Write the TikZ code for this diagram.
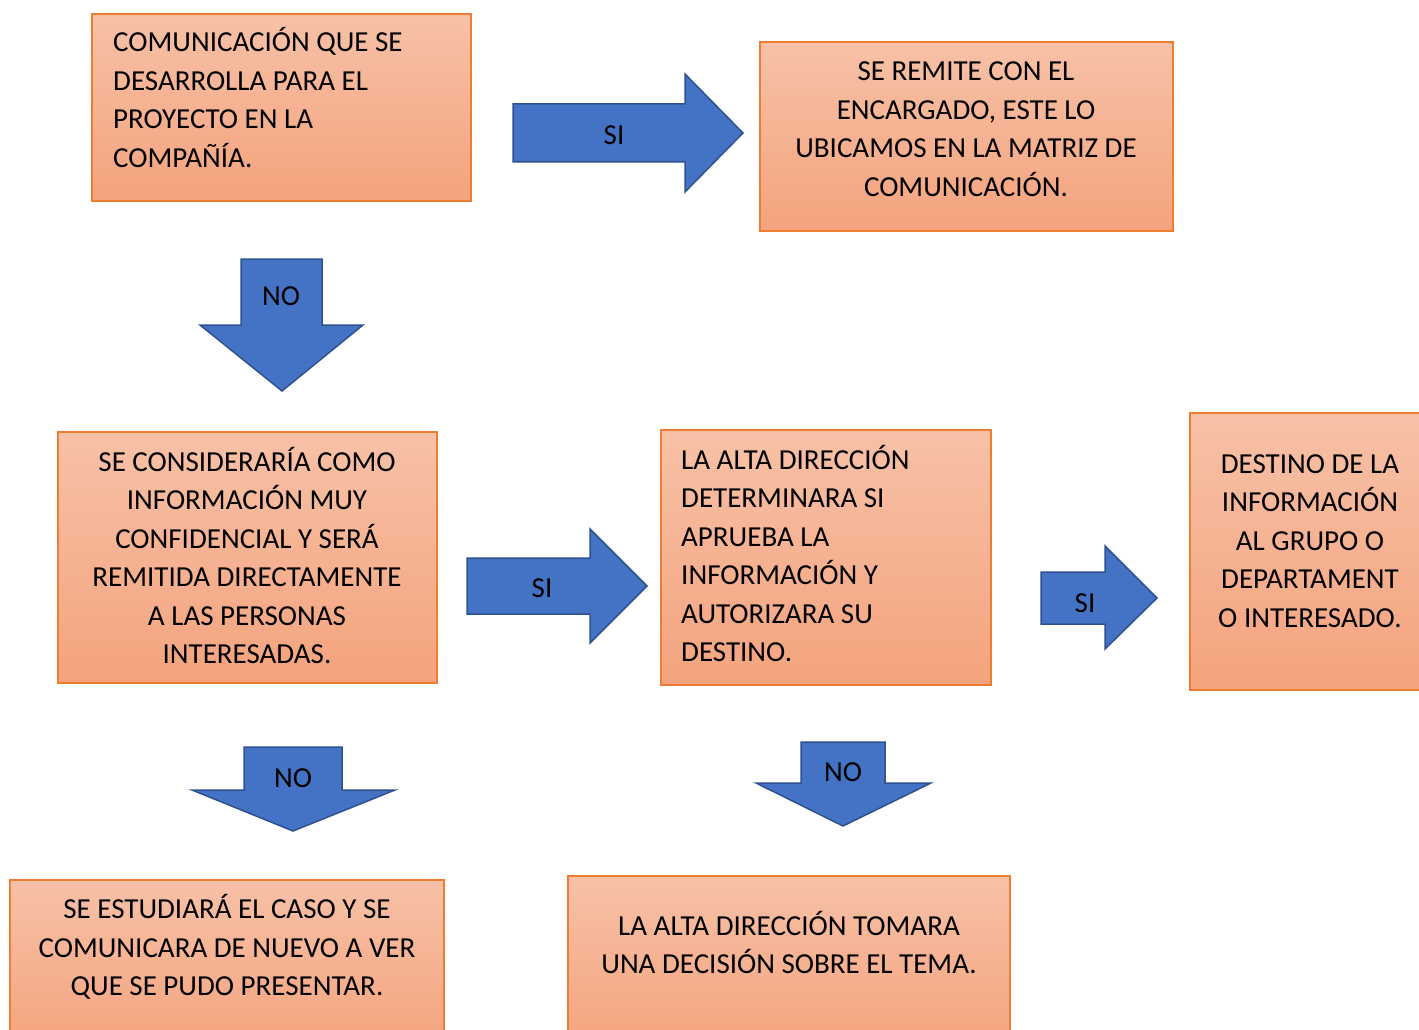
\documentclass[tikz,border=0pt]{standalone}
\usepackage{fontspec}
\setmainfont{Carlito}
\definecolor{boxtop}{HTML}{F7C1A7}
\definecolor{boxbot}{HTML}{F4A37D}
\definecolor{boxline}{HTML}{ED7D31}
\definecolor{arrfill}{HTML}{4472C4}
\definecolor{arrline}{HTML}{2F528F}
\tikzset{
  box/.style={draw=boxline, line width=1.5pt, top color=boxtop, bottom color=boxbot, rectangle, inner sep=0pt},
  txt/.style={inner sep=0pt, font=\fontsize{29}{38.5}\selectfont},
  blockarrow/.style={draw=arrline, fill=arrfill, line width=1.5pt, line join=miter},
  lbl/.style={inner sep=0pt, font=\fontsize{29}{38.5}\selectfont}
}
\begin{document}
\begin{tikzpicture}[x=1pt,y=-1pt]
\useasboundingbox (0,0) rectangle (1419,1030);
\clip (0,0) rectangle (1419,1030);
\fill[white] (0,0) rectangle (1419,1030);

% boxes
\path[box] (92,14) rectangle (471,201) coordinate (bA);
\node[txt, align=left, anchor=west] (tA) at (113,102) {\strut COMUNICACIÓN QUE SE\\DESARROLLA PARA EL\\PROYECTO EN LA\\COMPAÑÍA.\strut};

\path[box] (760,42) rectangle (1173,231) coordinate (bB);
\node[txt, align=center] (tB) at (966,130.6) {\strut SE REMITE CON EL\\ENCARGADO, ESTE LO\\UBICAMOS EN LA MATRIZ DE\\COMUNICACIÓN.\strut};

\path[box] (58,432) rectangle (437,683) coordinate (bC);
\node[txt, align=center] (tC) at (247,559.6) {\strut SE CONSIDERARÍA COMO\\INFORMACIÓN MUY\\CONFIDENCIAL Y SERÁ\\REMITIDA DIRECTAMENTE\\A LAS PERSONAS\\INTERESADAS.\strut};

\path[box] (661,430) rectangle (991,685) coordinate (bD);
\node[txt, align=left, anchor=west] (tD) at (681,557.6) {\strut LA ALTA DIRECCIÓN\\DETERMINARA SI\\APRUEBA LA\\INFORMACIÓN Y\\AUTORIZARA SU\\DESTINO.\strut};

\path[box] (1190,413) rectangle (1440,690) coordinate (bE);
\node[txt, align=center] (tE) at (1310,542.6) {\strut DESTINO DE LA\\INFORMACIÓN\\AL GRUPO O\\DEPARTAMENT\\O INTERESADO.\strut};

\path[box] (10,880) rectangle (444,1050) coordinate (bF);
\node[txt, align=center] (tF) at (227,949.6) {\strut SE ESTUDIARÁ EL CASO Y SE\\COMUNICARA DE NUEVO A VER\\QUE SE PUDO PRESENTAR.\strut};

\path[box] (568,876) rectangle (1010,1050) coordinate (bG);
\node[txt, align=center] (tG) at (789,946.6) {\strut LA ALTA DIRECCIÓN TOMARA\\UNA DECISIÓN SOBRE EL TEMA.\strut};

% block arrows
\draw[blockarrow] (513,104) -- (685,104) -- (685,74) -- (743,133) -- (685,192) -- (685,162) -- (513,162) -- cycle;
\node[lbl] (l1) at (614,137) {\strut SI};

\draw[blockarrow] (241,259) -- (322,259) -- (322,325) -- (363,325) -- (282,391) -- (200,325) -- (241,325) -- cycle;
\node[lbl] (l2) at (281,298) {\strut NO};

\draw[blockarrow] (467,558) -- (590,558) -- (590,529) -- (647,586) -- (590,643) -- (590,614) -- (467,614) -- cycle;
\node[lbl] (l3) at (542,589.6) {\strut SI};

\draw[blockarrow] (1041,572) -- (1105,572) -- (1105,546) -- (1157,598) -- (1105,649) -- (1105,624) -- (1041,624) -- cycle;
\node[lbl] (l4) at (1085,604.6) {\strut SI};

\draw[blockarrow] (244,747) -- (342,747) -- (342,790) -- (395,790) -- (293,831) -- (192,790) -- (244,790) -- cycle;
\node[lbl] (l5) at (293,779.6) {\strut NO};

\draw[blockarrow] (801,742) -- (885,742) -- (885,783) -- (931,783) -- (843,826) -- (756,783) -- (801,783) -- cycle;
\node[lbl] (l6) at (843,773.6) {\strut NO};
\end{tikzpicture}
\end{document}
